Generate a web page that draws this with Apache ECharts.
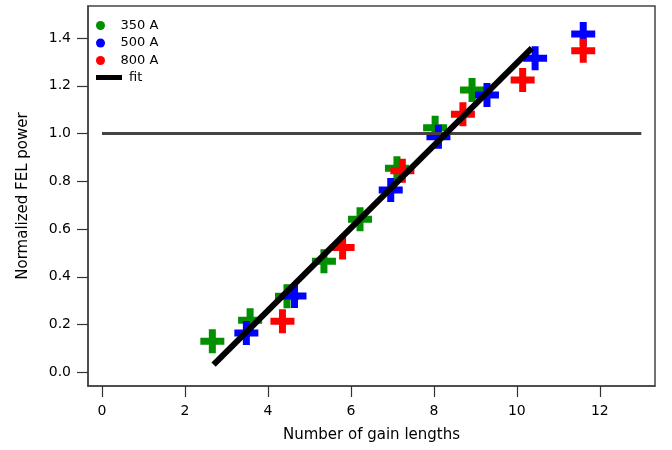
<!DOCTYPE html>
<html>
<head>
<meta charset="utf-8">
<script src="https://cdn.jsdelivr.net/npm/echarts@6/dist/echarts.min.js"></script>
<style>html,body{margin:0;padding:0;background:#fff}#c{width:672px;height:450px}</style>
</head>
<body>
<div id="c"></div>
<script>
// Data
var x350 = [2.66, 3.57, 4.46, 5.35, 6.22, 7.11, 8.03, 8.92];
var y350 = [0.13, 0.218, 0.318, 0.465, 0.641, 0.854, 1.024, 1.182];
var x500 = [3.48, 4.64, 6.96, 8.11, 9.28, 10.44, 11.6];
var y500 = [0.165, 0.32, 0.763, 0.986, 1.161, 1.315, 1.417];
var x800 = [4.35, 5.8, 7.24, 8.7, 10.14, 11.6];
var y800 = [0.214, 0.523, 0.844, 1.081, 1.224, 1.347];
var fitX = [2.69, 10.36];
var fitY = [0.032, 1.358];
var refX = [0, 13];
var refY = [1.0, 1.0];
var xTicks = [0, 2, 4, 6, 8, 10, 12];
var yTicks = [0, 0.2, 0.4, 0.6, 0.8, 1.0, 1.2, 1.4];
var seriesNames = ['350 A', '500 A', '800 A'];
var seriesColors = ['#009000', '#0000ff', '#ff0000'];

function pairs(xs, ys) { return xs.map(function (v, i) { return [v, ys[i]]; }); }

var plus = 'path://M8.5,0 H15.5 V8.5 H24 V15.5 H15.5 V24 H8.5 V15.5 H0 V8.5 H8.5 Z';
var FONT = 'DejaVu Sans';

var scatterData = [pairs(x350, y350), pairs(x500, y500), pairs(x800, y800)];

var series = [
  { name: 'ref', type: 'line', data: pairs(refX, refY), showSymbol: false, silent: true,
    lineStyle: { color: '#444444', width: 3 }, itemStyle: { color: '#444444' } },
  { name: 'fit', type: 'line', data: pairs(fitX, fitY), showSymbol: false, silent: true,
    lineStyle: { color: '#000000', width: 6 }, itemStyle: { color: '#000000' } }
];
seriesNames.forEach(function (n, i) {
  series.push({ name: n, type: 'scatter', data: scatterData[i], symbol: plus, symbolSize: 24,
    symbolKeepAspect: true, itemStyle: { color: seriesColors[i], opacity: 1 } });
});

var chart = echarts.init(document.getElementById('c'), null, { renderer: 'canvas' });
chart.setOption({
  animation: false,
  backgroundColor: '#ffffff',
  textStyle: { fontFamily: FONT },
  grid: { left: 88, right: 17, top: 6, bottom: 64, show: true, borderColor: '#444', borderWidth: 1.5 },
  legend: [
    { data: seriesNames, orient: 'vertical', left: 91, top: 14, icon: 'circle', itemWidth: 26, itemHeight: 9,
      itemGap: 4.5, selectedMode: false, textStyle: { fontFamily: FONT, fontSize: 13, color: '#000', padding: [0, 0, 0, 2] } },
    { data: ['fit'], orient: 'vertical', left: 91, top: 66, icon: 'rect', itemWidth: 26, itemHeight: 5,
      selectedMode: false, textStyle: { fontFamily: FONT, fontSize: 13, color: '#000', padding: [0, 0, 0, 2] } }
  ],
  xAxis: {
    type: 'value', min: -0.337, max: 13.33,
    name: 'Number of gain lengths', nameLocation: 'middle', nameGap: 42,
    nameTextStyle: { fontFamily: FONT, fontSize: 15, color: '#000' },
    axisLine: { show: true, onZero: false, lineStyle: { color: '#444', width: 1.5 } },
    axisTick: { show: true, length: 11, customValues: xTicks, lineStyle: { color: '#333', width: 1.2 } },
    axisLabel: { customValues: xTicks, margin: 18, fontFamily: FONT, fontSize: 14, color: '#000' },
    splitLine: { show: false }
  },
  yAxis: {
    type: 'value', min: -0.0574, max: 1.534,
    name: 'Normalized FEL power', nameLocation: 'middle', nameGap: 57,
    nameTextStyle: { fontFamily: FONT, fontSize: 15, color: '#000' },
    axisLine: { show: true, onZero: false, lineStyle: { color: '#444', width: 1.5 } },
    axisTick: { show: true, length: 11, customValues: yTicks, lineStyle: { color: '#333', width: 1.2 } },
    axisLabel: { customValues: yTicks, margin: 17, fontFamily: FONT, fontSize: 14, color: '#000',
      formatter: function (v) { return v.toFixed(1); } },
    splitLine: { show: false }
  },
  series: series
});
</script>
</body>
</html>
